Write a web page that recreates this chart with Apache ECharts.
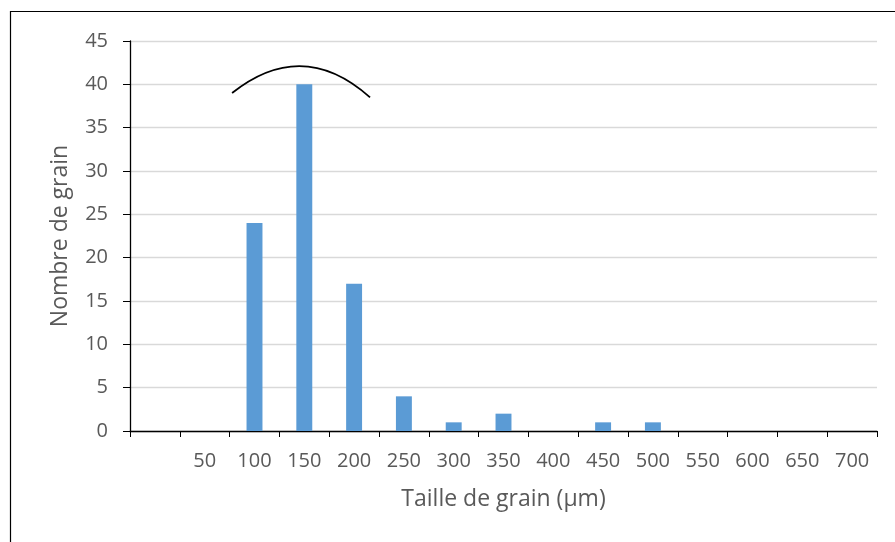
<!DOCTYPE html>
<html><head><meta charset="utf-8">
<script src="https://cdn.jsdelivr.net/npm/echarts@6/dist/echarts.min.js"></script>
<style>html,body{margin:0;padding:0;background:#fff}#c{width:895px;height:542px}</style>
</head><body><div id="c"></div>
<script>
const categories = ['', '50', '100', '150', '200', '250', '300', '350', '400', '450', '500', '550', '600', '650', '700'];
const counts = [null, null, 24, 40, 17, 4, 1, 2, 0, 1, 1, null, null, null, null];
const yTicks = {min: 0, max: 45, interval: 5};
const xTitle = 'Taille de grain (µm)';
const yTitle = 'Nombre de grain';
// annotation arc (category index, value): start, peak, end
const arcPts = [[1.55, 39.0], [2.95, 42.1], [4.32, 38.5]];

const font = 'Open Sans, Liberation Sans, sans-serif';
const chart = echarts.init(document.getElementById('c'));
chart.setOption({
  animation: false,
  grid: {left: 130, right: 18, top: 41, bottom: 111},
  xAxis: {
    type: 'category', data: categories, boundaryGap: true,
    name: xTitle, nameLocation: 'middle', nameGap: 57,
    nameTextStyle: {color: '#595959', fontSize: 23, fontFamily: font},
    axisLine: {lineStyle: {color: '#000', width: 1.3}},
    axisTick: {show: true, length: 6, lineStyle: {color: '#000'}, alignWithLabel: false},
    axisLabel: {color: '#595959', fontSize: 20, fontFamily: font, margin: 20, interval: 0}
  },
  yAxis: {
    type: 'value', min: yTicks.min, max: yTicks.max, interval: yTicks.interval,
    name: yTitle, nameLocation: 'middle', nameGap: 58,
    nameTextStyle: {color: '#595959', fontSize: 23, fontFamily: font},
    axisLine: {show: true, lineStyle: {color: '#000', width: 1.3}},
    axisTick: {show: true, length: 7, lineStyle: {color: '#000'}},
    axisLabel: {color: '#595959', fontSize: 20, fontFamily: font, margin: 22},
    splitLine: {lineStyle: {color: '#d9d9d9', width: 1.3}}
  },
  series: [{
    type: 'bar', data: counts, barWidth: '32%',
    itemStyle: {color: '#5B9BD5'}
  }],
  graphic: [{
    type: 'rect', shape: {x: 10.5, y: 11.5, width: 900, height: 600},
    style: {fill: 'none', stroke: '#000', lineWidth: 1.2}, silent: true, z: -1
  }]
});
function toPx(pt) {
  const i = Math.floor(pt[0]);
  const a = chart.convertToPixel({gridIndex: 0}, [i, pt[1]]);
  const b = chart.convertToPixel({gridIndex: 0}, [i + 1, pt[1]]);
  const f = pt[0] - i;
  return [a[0] + (b[0] - a[0]) * f, a[1]];
}
const p0 = toPx(arcPts[0]);
const p1 = toPx(arcPts[1]);
const p2 = toPx(arcPts[2]);
const cx = 2 * p1[0] - (p0[0] + p2[0]) / 2;
const cy = 2 * p1[1] - (p0[1] + p2[1]) / 2;
chart.setOption({graphic: [{}, {
  type: 'bezierCurve',
  shape: {x1: p0[0], y1: p0[1], x2: p2[0], y2: p2[1], cpx1: cx, cpy1: cy},
  style: {stroke: '#000', lineWidth: 1.8, fill: 'none'}, z: 10
}]});
</script></body></html>
